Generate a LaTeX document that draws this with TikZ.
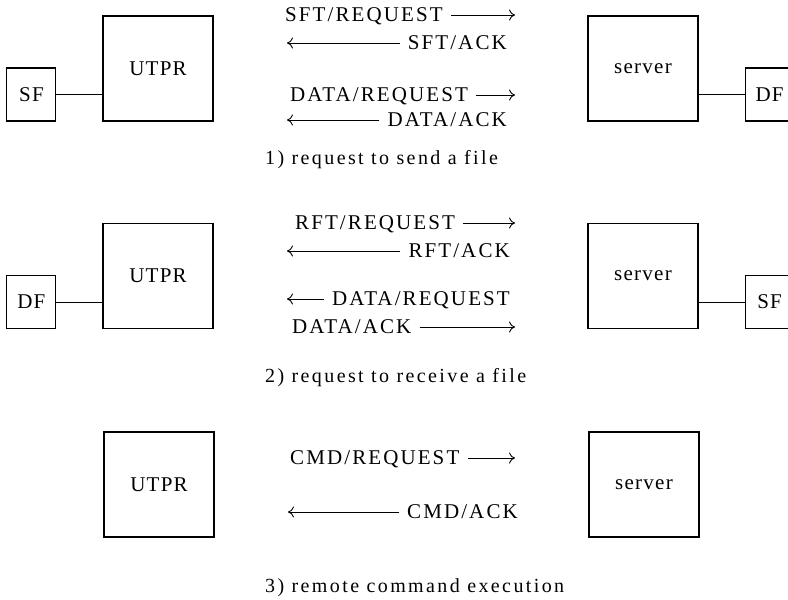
\documentclass[tikz,border=0pt]{standalone}
\usepackage{fontspec}
\setmainfont{Liberation Serif}
\newfontfamily\msgfont{Liberation Serif}[LetterSpace=10]
\newfontfamily\capfont{Liberation Serif}[LetterSpace=12]
\newfontfamily\boxfont{Liberation Serif}[LetterSpace=6]
\usetikzlibrary{positioning,arrows.meta}

\begin{document}
\begin{tikzpicture}
      [x=1pt, y=-1pt,
      box/.style={font=\boxfont\fontsize{21}{24}\selectfont, draw, line width=1.1pt, minimum width=110pt, minimum height=105pt, node distance=485pt},
      file/.style={font=\boxfont\fontsize{21}{24}\selectfont, draw, line width=1.1pt, minimum width=49pt, minimum height=53pt, inner sep=0pt},
      msg/.style={font=\msgfont\fontsize{21}{24}\selectfont, inner xsep=8pt, inner ysep=0pt, text height=13.9pt, text depth=0pt},
      caption/.style={font=\capfont\fontsize{20}{24}\selectfont, anchor=west, inner sep=0pt},
      arr/.style={-{Computer Modern Rightarrow[length=6pt, width=11pt]}, line width=0.9pt},
      ]
      \clip (0,0) rectangle (788,600);
      \useasboundingbox (0,0) rectangle (788,600);

      \node[box] (U1) at (158,68.5) {UTPR};
      \node[box, right of=U1] (S1) {server};
      \node[file, left=46pt of U1.south west, anchor=south east] (SF1) {SF};
      \node[file, right=46pt of S1.south east, anchor=south west] (DF1) {DF};
      \draw[line width=0.9pt] (SF1) -- (SF1 -| U1.west);
      \draw[line width=0.9pt] (DF1) -- (DF1 -| S1.east);

      \node[msg, anchor=west] (M11) at (277,15) {SFT/REQUEST};
      \node[msg, anchor=east] (M12) at (515,43) {SFT/ACK};
      \node[msg, anchor=west] (M13) at (282,95) {DATA/REQUEST};
      \node[msg, anchor=east] (M14) at (515,120) {DATA/ACK};
      \coordinate (E11) at (515,15);
      \coordinate (E12) at (287,43);
      \coordinate (E13) at (515,95);
      \coordinate (E14) at (287,120);
      \draw[arr] (M11) to (E11);
      \draw[arr] (M12) to (E12);
      \draw[arr] (M13) to (E13);
      \draw[arr] (M14) to (E14);
      \node[caption] (C1) at (265,160) {1) request to send a file};

      \node[box] (U2) at (158,276) {UTPR};
      \node[box, right of=U2] (S2) {server};
      \node[file, left=46pt of U2.south west, anchor=south east] (DF2) {DF};
      \node[file, right=46pt of S2.south east, anchor=south west] (SF2) {SF};
      \draw[line width=0.9pt] (DF2) -- (DF2 -| U2.west);
      \draw[line width=0.9pt] (SF2) -- (SF2 -| S2.east);

      \node[msg, anchor=west] (M21) at (287,223) {RFT/REQUEST};
      \node[msg, anchor=east] (M22) at (518,251) {RFT/ACK};
      \node[msg, anchor=east] (M23) at (518,299) {DATA/REQUEST};
      \node[msg, anchor=west] (M24) at (284,327) {DATA/ACK};
      \coordinate (E21) at (515,223);
      \coordinate (E22) at (287,251);
      \coordinate (E23) at (287,299);
      \coordinate (E24) at (515,327);
      \draw[arr] (M21) to (E21);
      \draw[arr] (M22) to (E22);
      \draw[arr] (M23) to (E23);
      \draw[arr] (M24) to (E24);
      \node[caption] (C2) at (265,378) {2) request to receive a file};

      \node[box] (U3) at (159,484.5) {UTPR};
      \node[box, right of=U3] (S3) {server};

      \node[msg, anchor=west] (M31) at (282,458) {CMD/REQUEST};
      \node[msg, anchor=east] (M32) at (526,512) {CMD/ACK};
      \coordinate (E31) at (515,458);
      \coordinate (E32) at (288,512);
      \draw[arr] (M31) to (E31);
      \draw[arr] (M32) to (E32);
      \node[caption] (C3) at (265,588) {3) remote command execution};
    \end{tikzpicture}
\end{document}
